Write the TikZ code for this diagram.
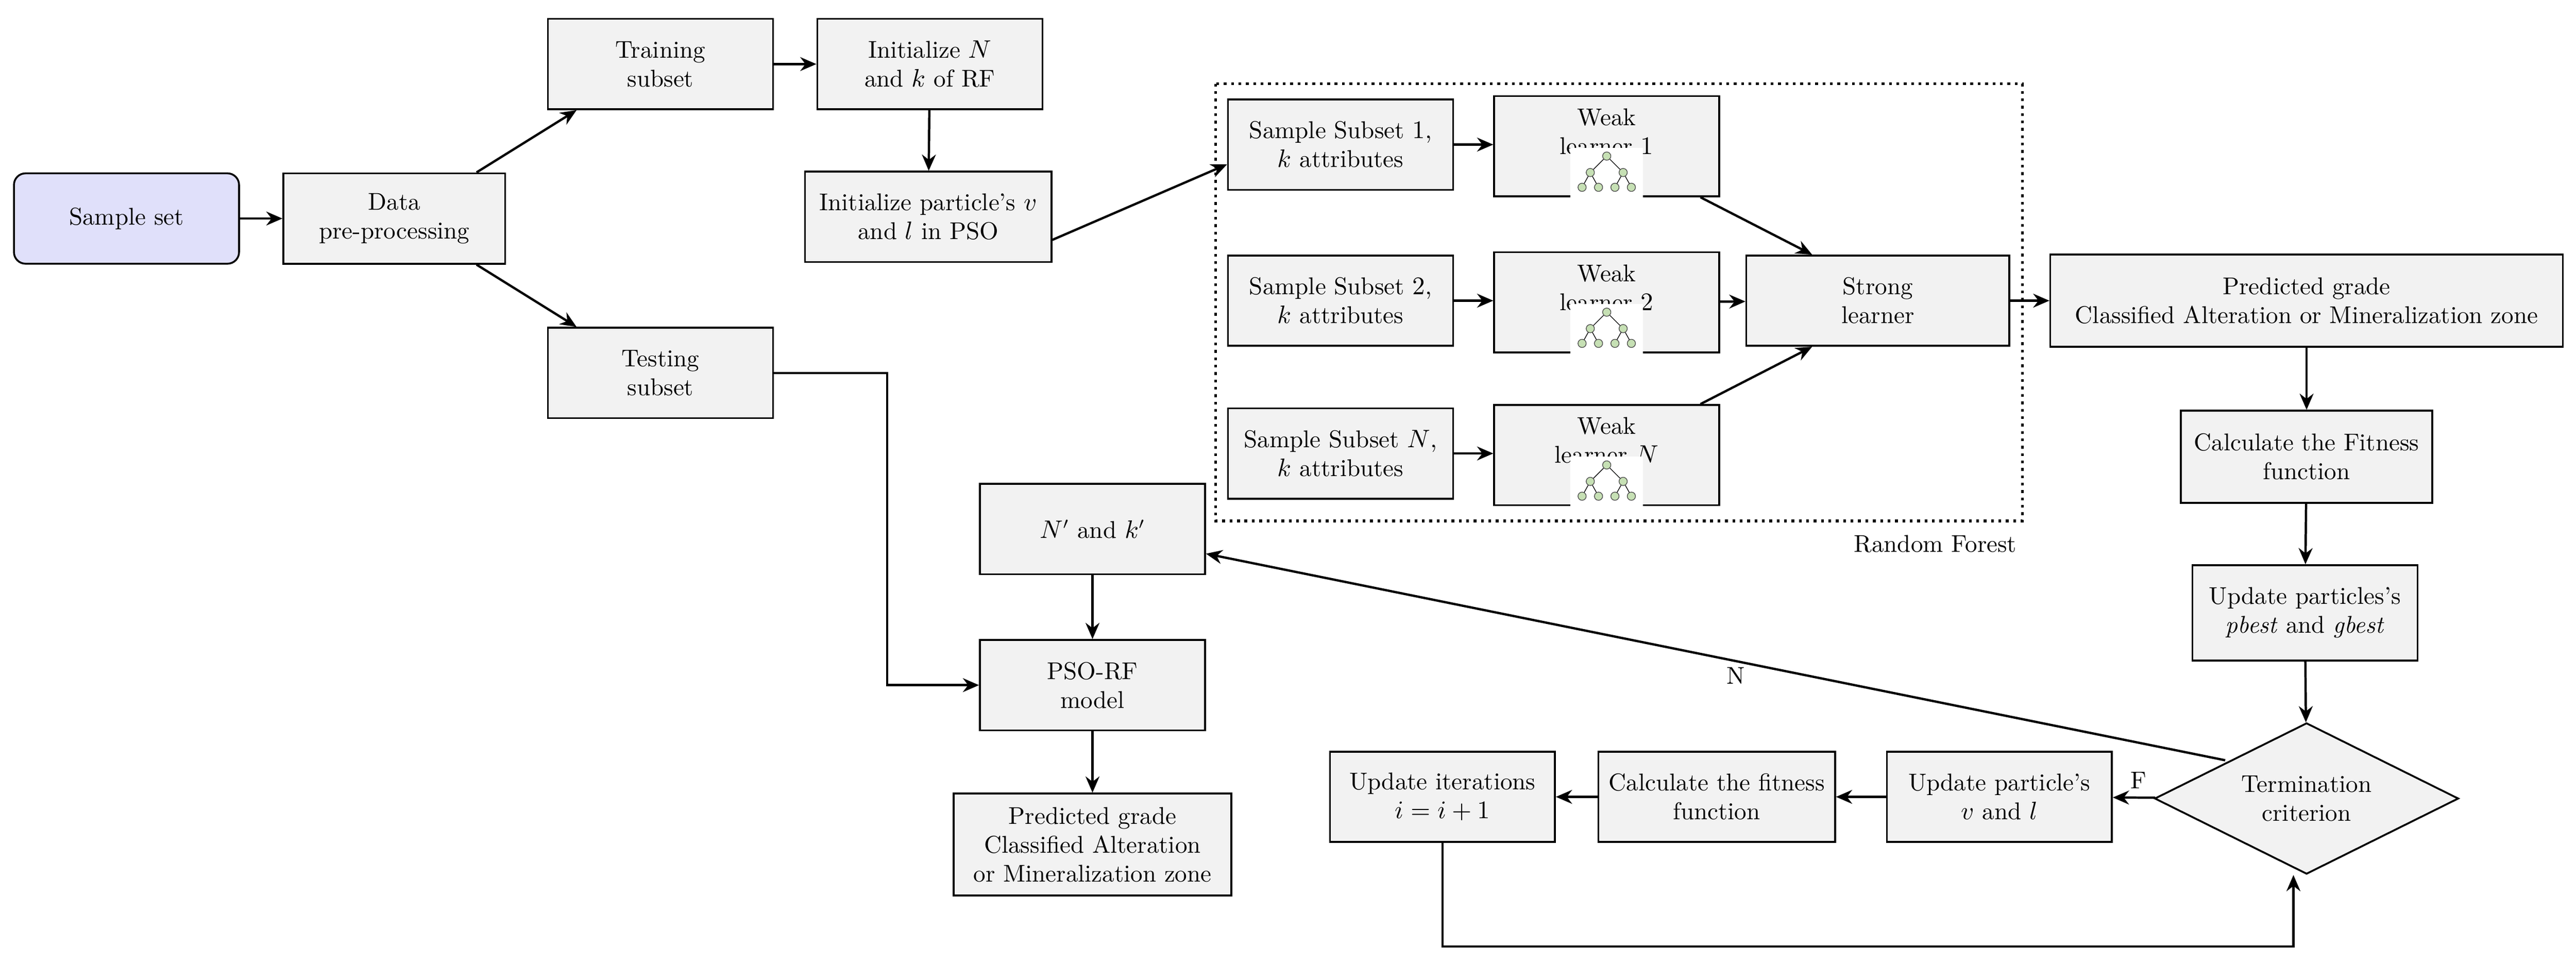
\documentclass[tikz,border=0pt]{standalone}
\usepackage{amsmath}
\usepackage{tikz}
\usetikzlibrary{shapes.geometric,arrows.meta}
\definecolor{boxgray}{HTML}{F2F2F2}
\definecolor{setblue}{HTML}{E0E0FA}
\definecolor{leafgreen}{HTML}{C6E0B4}
\begin{document}
\begin{tikzpicture}[x=0.025cm,y=-0.025cm,thick,
        font=\fontsize{10.5}{12.5}\selectfont,
        box/.style = {draw, fill=boxgray, align=center, minimum width=137*0.025cm, minimum height=55*0.025cm, inner sep=1pt},
        arr/.style = {-{Stealth[length=7pt,width=6pt]}, line width=1pt},
        leaf/.style = {circle, draw=black!70, fill=leafgreen, inner sep=0pt, minimum size=5*0.025cm, line width=0.3pt},
        tree/.pic = {
            \fill[white] (-22,-15) rectangle (22,15);
            \node[leaf] (r) at (0,-10) {};
            \node[leaf] (a) at (-10,0) {};
            \node[leaf] (b) at (10,0) {};
            \foreach \p/\x in {a/-15,a/-5,b/5,b/15}
                \draw[line width=0.3pt] (\p) -- (\x,9) node[leaf] {};
            \draw[line width=0.3pt] (r) -- (a) (r) -- (b);
        }]
        \useasboundingbox (0,0) rectangle (1568,586);

        % Input and pre-processing
        \node[box,fill=setblue,rounded corners=5pt] (sample) at (77,133) {Sample set};
        \node[box,minimum width=135*0.025cm] (prep) at (240,133) {Data\\pre-processing};
        \node[box] (train) at (402,39) {Training\\subset};
        \node[box] (test) at (402,227) {Testing\\subset};
        \node[box] (init) at (566,39) {Initialize $N$\\and $k$ of RF};
        \node[box,minimum width=150*0.025cm] (part) at (565,132) {Initialize particle's $v$\\and $l$ in PSO};

        % Random forest
        \foreach \i/\y/\t in {1/88/1,2/183/2,3/276/N}{
            \node[box] (sub\i) at (816,\y) {Sample Subset $\t$,\\$k$ attributes};
            \node[box,minimum height=61*0.025cm,
                  label={[anchor=north,align=center,yshift=-2pt]north:{Weak\\learner $\t$}}] (weak\i) at (978,\y+1) {};
            \pic at (978,\y+17) {tree};
            \draw[arr] (sub\i) -- (sub\i -| weak\i.west);
        }
        \node[box,minimum width=160*0.025cm] (strong) at (1143,183) {Strong\\learner};
        \draw[dotted,line width=1.2pt] (740,51) rectangle (1231,317);
        \node (rf) at (1178,331) {Random Forest};

        % PSO loop
        \node[box,minimum width=312*0.025cm,minimum height=56*0.025cm] (pred) at (1404,183) {Predicted grade\\Classified Alteration or Mineralization zone};
        \node[box,minimum width=153*0.025cm,minimum height=56*0.025cm] (fit) at (1404,278) {Calculate the Fitness\\function};
        \node[box,minimum height=58*0.025cm] (best) at (1403,373) {Update particles's\\\textit{pbest} and \textit{gbest}};
        \node[draw,diamond,fill=boxgray,aspect=2,minimum width=185*0.025cm,minimum height=92*0.025cm,inner sep=0pt,align=center] (term) at (1404,486) {Termination\\criterion};
        \node[box] (upd) at (1217,485) {Update particle's\\$v$ and $l$};
        \node[box,minimum width=144*0.025cm] (calc) at (1045,485) {Calculate the fitness\\function};
        \node[box] (iter) at (878,485) {Update iterations\\$i=i+1$};

        % Output
        \node[box] (nk) at (665,322) {$N'$ and $k'$};
        \node[box] (model) at (665,417) {PSO-RF\\model};
        \node[box,minimum width=169*0.025cm,minimum height=62*0.025cm] (out) at (665,514) {Predicted grade\\Classified Alteration\\or Mineralization zone};

        % Connectors
        \draw[arr] (sample) -- (prep);
        \draw[arr] ([xshift=-18*0.025cm]prep.north east) -- ([xshift=18*0.025cm]train.south west);
        \draw[arr] ([xshift=-18*0.025cm]prep.south east) -- ([xshift=18*0.025cm]test.north west);
        \draw[arr] (train) -- (init);
        \draw[arr] (init) -- (part);
        \draw[arr] ([yshift=-14*0.025cm]part.east) -- ([yshift=-12*0.025cm]sub1.west);
        \draw[arr] ([xshift=-12*0.025cm]weak1.south east) -- ([xshift=-40*0.025cm]strong.north);
        \draw[arr] (weak2) -- (strong);
        \draw[arr] ([xshift=-12*0.025cm]weak3.north east) -- ([xshift=-40*0.025cm]strong.south);
        \draw[arr] (strong) -- (pred);
        \draw[arr] (pred) -- (fit);
        \draw[arr] (fit) -- (best);
        \draw[arr] (best) -- (term);
        \draw[arr] (term) -- node[above,pos=0.4] {F} (upd);
        \draw[arr] (upd) -- (calc);
        \draw[arr] (calc) -- (iter);
        \draw[arr] (iter.south) |- (879,576) -| ([xshift=-8*0.025cm]term.south);
        \draw[arr] ([xshift=-3*0.025cm]term.north west) -- node[pos=0.48,below=-1pt] {N} (nk.east |- 0,337);
        \draw[arr] (test.east) -| (540,417) -- (model.west);
        \draw[arr] (nk) -- (model);
        \draw[arr] (model) -- (out);

    \end{tikzpicture}
\end{document}
